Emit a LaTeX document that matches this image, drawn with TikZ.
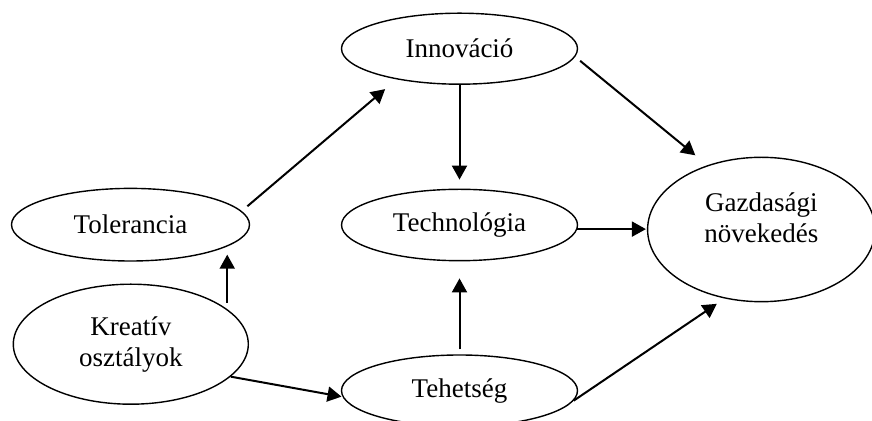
\documentclass[tikz,border=0pt]{standalone}
\usepackage{fontspec}
\setmainfont{Liberation Serif}
\usetikzlibrary{shapes.geometric,arrows.meta}
\begin{document}
\begin{tikzpicture}
      [x=0.5pt,y=-0.5pt,
       oval/.style={ellipse,draw,line width=0.7pt,inner sep=0pt,align=center},
       arr/.style={-{Triangle[length=7pt,width=7.5pt]},line width=1pt}]
      \tikzstyle{every node}=[font=\fontsize{13.5}{15.5}\selectfont]
      \useasboundingbox (0,0) rectangle (872,421);
      % ellipses
      \node[oval,minimum width=118pt,minimum height=35.5pt] (inn) at (459.5,48.7) {Innováció};
      \node[oval,minimum width=119pt,minimum height=36.3pt] (tol) at (130.5,224.7) {Tolerancia};
      \node[oval,minimum width=117.5pt,minimum height=60pt] (kre) at (130.8,344.2) {Kreatív\\osztályok};
      \node[oval,minimum width=118pt,minimum height=35.7pt] (tech) at (459.5,225) {Technológia};
      \node[oval,minimum width=118pt,minimum height=35.7pt] (teh) at (459.5,390.7) {Tehetség};
      \node[oval,minimum width=113.7pt,minimum height=72.2pt] (gaz) at (761.3,229.5)
        {\raisebox{4.25pt}[\height][\depth]{\begin{tabular}{@{}c@{}}Gazdasági\\növekedés\end{tabular}}};
      % arrows
      \draw[arr,shorten <=3.7pt,shorten >=7.5pt] (tol.7) -- (inn.206);
      \draw[arr,shorten <=3.3pt,shorten >=4.5pt] (kre.20.5) -- (kre.20.5 |- tol.-12.7);
      \draw[arr,shorten >=0.5pt] (kre.-18) -- (teh.183);
      \draw[arr,shorten >=4.5pt] (inn) -- (tech);
      \draw[arr,shorten <=2.5pt,shorten >=8.5pt] (teh) -- (tech);
      \draw[arr,shorten >=0.5pt] (tech.-2.5) -- (tech.-2.5 -| gaz.west);
      \draw[arr,shorten <=3.2pt,shorten >=7.8pt] (inn.-4.5) -- (gaz.130);
      \draw[arr,shorten >=4.7pt] (teh.-5) -- (gaz.242);
\end{tikzpicture}
\end{document}
